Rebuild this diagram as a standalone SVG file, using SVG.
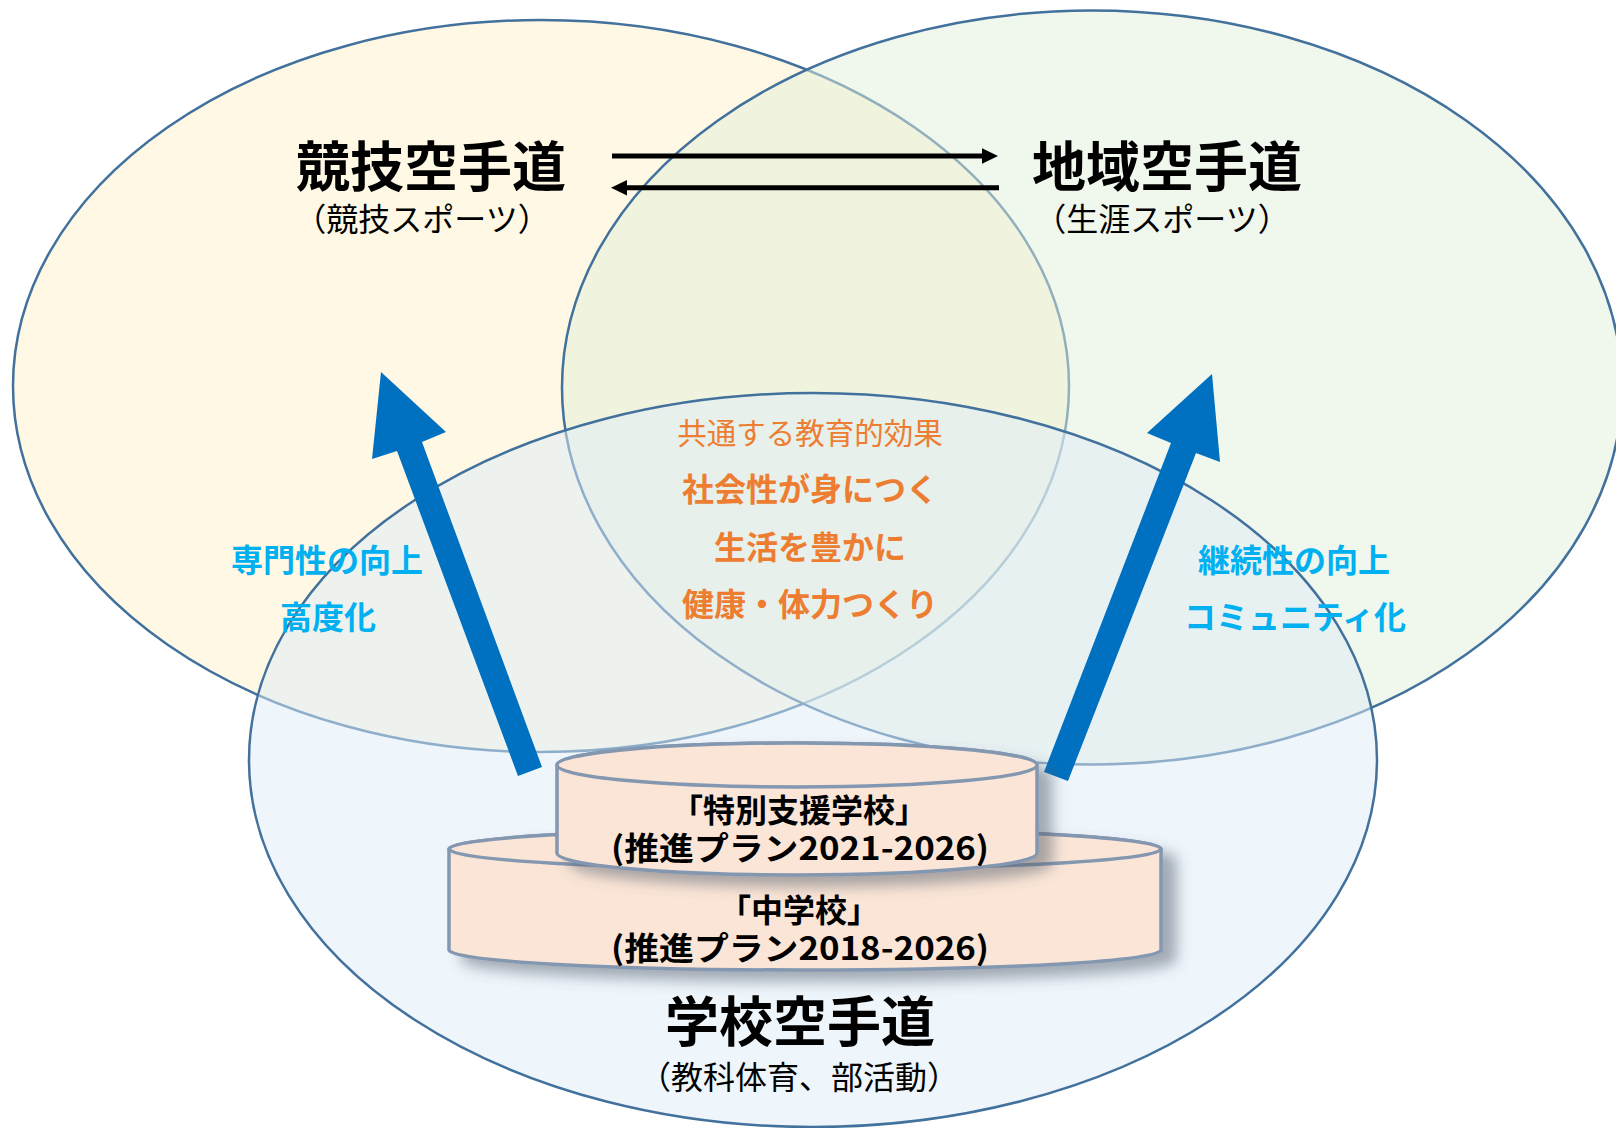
<svg xmlns="http://www.w3.org/2000/svg" width="1616" height="1128" viewBox="0 0 1616 1128">
<style>
  text { font-family: "Noto Sans CJK JP", "Noto Sans", sans-serif; text-anchor: middle; }
  .circle { stroke: #41719C; stroke-width: 2.5; fill-opacity: 0.5; }
  .title { font-size: 54px; font-weight: 700; fill: #000; }
  .sub { font-size: 32px; font-weight: 400; fill: #000; }
  .effect-head { font-size: 29.5px; font-weight: 400; fill: #ED7D31; }
  .effect { font-size: 32px; font-weight: 700; fill: #ED7D31; }
  .goal { font-size: 32px; font-weight: 700; fill: #00B0F0; }
  .cyl { fill: #FBE5D6; stroke: #8497B0; stroke-width: 3.5; }
  .cyltext { font-size: 32px; font-weight: 700; fill: #000; }
  .bigarrow { fill: #0070C0; }
  .link { stroke: #000; stroke-width: 5; fill: none; }
  .head { fill: #000; }
</style>
<defs>
  <filter id="shadow" x="-10%" y="-20%" width="130%" height="160%">
    <feGaussianBlur in="SourceAlpha" stdDeviation="7"/>
    <feOffset dx="14" dy="10" result="b"/>
    <feFlood flood-color="#55606e" flood-opacity="0.5"/>
    <feComposite in2="b" operator="in"/>
    <feMerge><feMergeNode/><feMergeNode in="SourceGraphic"/></feMerge>
  </filter>
</defs>
<rect width="1616" height="1128" fill="#fff"/>

<g id="competitive">
  <ellipse class="circle" cx="541" cy="386" rx="528" ry="366" fill="#FFF2CC"/>
</g>
<g id="community">
  <ellipse class="circle" cx="1092" cy="387.5" rx="530" ry="377" fill="#E2F0D9"/>
</g>
<g id="school">
  <ellipse class="circle" cx="813" cy="760" rx="564" ry="367" fill="#DEEBF7"/>
</g>

<g id="connectors">
  <path class="link" d="M612,156 H984"/>
  <polygon class="head" points="998,156 982,148.3 982,163.7"/>
  <path class="link" d="M999,187.7 H625"/>
  <polygon class="head" points="611,187.7 627,179.9 627,195.5"/>
  <polygon class="bigarrow" points="381,372 372,459 397,451 518,776 542,767 422,442 446,432"/>
  <polygon class="bigarrow" points="1212,374 1220,462 1196,453 1068,781 1044,772 1171,443 1147,433"/>
</g>

<g id="competitive-label">
  <text class="title" x="431" y="187">競技空手道</text>
  <text class="sub" x="422" y="231">（競技スポーツ）</text>
</g>
<g id="community-label">
  <text class="title" x="1167" y="187">地域空手道</text>
  <text class="sub" x="1162" y="231">（生涯スポーツ）</text>
</g>
<g id="school-label">
  <text class="title" x="800" y="1042">学校空手道</text>
  <text class="sub" x="799" y="1089">（教科体育、部活動）</text>
</g>

<g id="common-effects">
  <text class="effect-head" x="810" y="444">共通する教育的効果</text>
  <text class="effect" x="810" y="501">社会性が身につく</text>
  <text class="effect" x="810" y="559">生活を豊かに</text>
  <text class="effect" x="810" y="616">健康・体力つくり</text>
</g>

<g id="competitive-goals">
  <text class="goal" x="327" y="572">専門性の向上</text>
  <text class="goal" x="328" y="629">高度化</text>
</g>
<g id="community-goals">
  <text class="goal" x="1294" y="572">継続性の向上</text>
  <text class="goal" x="1295" y="629">コミュニティ化</text>
</g>

<g id="junior-high">
  <g filter="url(#shadow)">
    <path class="cyl" d="M449,849 V950 A356,20 0 0 0 1161,950 V849 A356,20 0 0 0 449,849 Z"/>
    <ellipse class="cyl" cx="805" cy="849" rx="356" ry="20"/>
  </g>
</g>
<g id="special-support">
  <g filter="url(#shadow)">
    <path class="cyl" d="M557,765 V853 A240,22 0 0 0 1037,853 V765 A240,22 0 0 0 557,765 Z"/>
    <ellipse class="cyl" cx="797" cy="765" rx="240" ry="22"/>
  </g>
  <text class="cyltext" x="799" y="822">「特別支援学校」</text>
  <text class="cyltext" x="800" y="860" textLength="378" lengthAdjust="spacingAndGlyphs">(推進プラン2021-2026)</text>
</g>
<g id="junior-high-label">
  <text class="cyltext" x="799" y="922">「中学校」</text>
  <text class="cyltext" x="800" y="960" textLength="378" lengthAdjust="spacingAndGlyphs">(推進プラン2018-2026)</text>
</g>
</svg>
